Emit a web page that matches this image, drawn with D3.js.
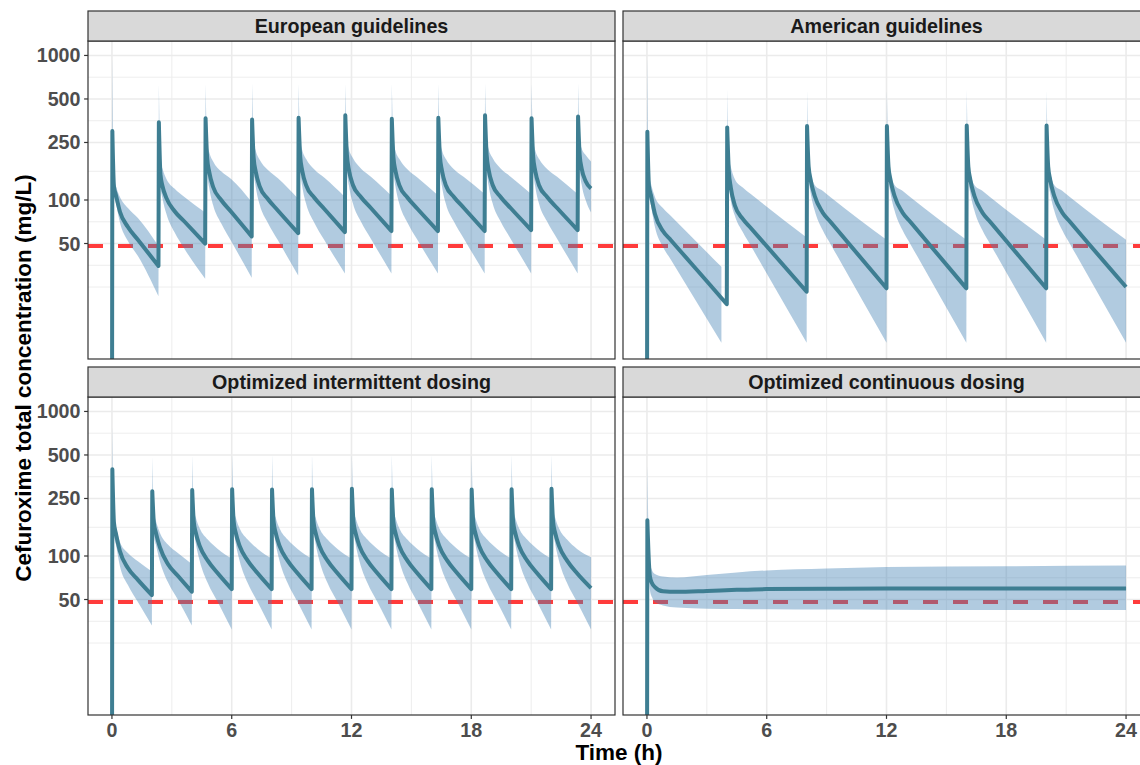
<!DOCTYPE html>
<html><head><meta charset="utf-8">
<script src="https://cdn.jsdelivr.net/npm/d3@7"></script>
<style>
body{margin:0;background:#fff;}
svg{display:block;font-family:"Liberation Sans",Arial,Helvetica,sans-serif;}
</style>
</head><body>
<svg id="chart" width="1140" height="765"></svg>
<script>
// ---------------- data ----------------
const panelTitles = ["European guidelines", "American guidelines", "Optimized intermittent dosing", "Optimized continuous dosing"];
const xTicks = [0, 6, 12, 18, 24];
const yTicks = [50, 100, 250, 500, 1000];
const yLimits = [10, 1000];
const xLimits = [0, 24];
const micLevel = 48;
const xTitle = "Time (h)";
const yTitle = "Cefuroxime total concentration (mg/L)";

// European guidelines
const euroTime = [
  0, 0.02, 0.1, 0.2, 0.4, 0.8, 1.3,
  2.33, 2.35, 2.43, 2.53, 2.73, 3.13, 3.63,
  4.67, 4.69, 4.77, 4.87, 5.07, 5.47, 5.97,
  7, 7.02, 7.1, 7.2, 7.4, 7.8, 8.3,
  9.33, 9.35, 9.43, 9.53, 9.73, 10.13, 10.63,
  11.67, 11.69, 11.77, 11.87, 12.07, 12.47, 12.97,
  14, 14.02, 14.1, 14.2, 14.4, 14.8, 15.3,
  16.33, 16.35, 16.43, 16.53, 16.73, 17.13, 17.63,
  18.67, 18.69, 18.77, 18.87, 19.07, 19.47, 19.97,
  21, 21.02, 21.1, 21.2, 21.4, 21.8, 22.3,
  23.33, 23.35, 23.43, 23.53, 23.73, 24];
const euroMedian = [
  1, 300, 124, 108, 83, 65, 53,
  35, 345, 150, 125, 103, 84, 71,
  50, 368, 195, 157, 123, 100, 83,
  56, 360, 195, 158, 124, 102, 85,
  59, 370, 200, 160, 126, 104, 87,
  60, 385, 205, 162, 127, 105, 88,
  61, 365, 198, 160, 126, 104, 87,
  61, 370, 200, 160, 126, 105, 88,
  61, 385, 205, 162, 127, 105, 88,
  62, 368, 200, 160, 126, 105, 88,
  62, 378, 205, 165, 135, 120];
const euroLower = [
  1, 200, 110, 95, 70, 52, 41,
  21.6, 220, 125, 103, 80, 60, 46,
  28.5, 240, 155, 122, 92, 69, 52,
  29, 240, 158, 124, 93, 70, 53,
  30, 245, 160, 125, 94, 70, 53,
  31, 250, 162, 126, 95, 71, 54,
  31, 240, 158, 125, 94, 70, 53,
  31, 245, 160, 125, 94, 71, 54,
  31, 250, 162, 126, 95, 71, 54,
  31, 245, 160, 125, 94, 71, 54,
  31, 245, 162, 128, 100, 82];
const euroUpper = [
  1, 1000, 145, 125, 105, 88, 75,
  48, 640, 190, 165, 140, 120, 105,
  82, 640, 250, 215, 185, 158, 140,
  97, 640, 255, 220, 190, 162, 142,
  102, 640, 260, 222, 192, 163, 143,
  105, 640, 265, 225, 195, 165, 145,
  107, 640, 258, 220, 192, 163, 143,
  108, 640, 260, 222, 192, 163, 144,
  110, 640, 265, 225, 195, 165, 145,
  110, 640, 260, 222, 192, 164, 145,
  110, 640, 265, 228, 205, 185];

// American guidelines
const amerTime = [
  0, 0.02, 0.1, 0.2, 0.4, 0.8, 1.2, 3.73,
  4, 4.02, 4.1, 4.2, 4.4, 4.8, 5.2,
  8, 8.02, 8.1, 8.2, 8.4, 8.8, 9.2,
  12, 12.02, 12.1, 12.2, 12.4, 12.8, 13.2,
  16, 16.02, 16.1, 16.2, 16.4, 16.8, 17.2,
  20, 20.02, 20.1, 20.2, 20.4, 20.8, 21.2, 24];
const amerMedian = [
  1, 297, 125, 108, 80, 61, 52.7, 21,
  19, 318, 160, 122, 92, 74, 64,
  23.2, 325, 170, 138, 107, 82, 70.5,
  24.5, 325, 170, 138, 107, 82, 70.5,
  24.5, 327, 170, 138, 107, 82, 70.5,
  24.5, 327, 170, 138, 107, 82, 70.5, 25];
const amerLower = [
  1, 200, 110, 92, 65, 47.5, 38.6, 10.3,
  null, 210, 130, 100, 78, 60, 48.2,
  10.3, 215, 140, 112, 85, 62, 49.5,
  10.3, 215, 140, 112, 85, 62, 49.5,
  10.3, 215, 140, 112, 85, 62, 49.5,
  10.3, 215, 140, 112, 85, 62, 49.5, 10.3];
const amerUpper = [
  1, 1000, 150, 130, 105, 88, 77.4, 34.5,
  null, 580, 200, 170, 140, 122, 110,
  55, 580, 185, 155, 127, 116, 104.6,
  53, 580, 185, 155, 127, 116, 104.6,
  53, 580, 185, 155, 127, 116, 104.6,
  53, 580, 185, 155, 127, 116, 104.6, 53];

// Optimized intermittent dosing
const optTime = [
  0, 0.02, 0.1, 0.2, 0.4, 0.8, 1.3,
  2, 2.02, 2.1, 2.2, 2.4, 2.8, 3.3,
  4, 4.02, 4.1, 4.2, 4.4, 4.8, 5.3,
  6, 6.02, 6.1, 6.2, 6.4, 6.8, 7.3,
  8, 8.02, 8.1, 8.2, 8.4, 8.8, 9.3,
  10, 10.02, 10.1, 10.2, 10.4, 10.8, 11.3,
  12, 12.02, 12.1, 12.2, 12.4, 12.8, 13.3,
  14, 14.02, 14.1, 14.2, 14.4, 14.8, 15.3,
  16, 16.02, 16.1, 16.2, 16.4, 16.8, 17.3,
  18, 18.02, 18.1, 18.2, 18.4, 18.8, 19.3,
  20, 20.02, 20.1, 20.2, 20.4, 20.8, 21.3,
  22, 22.02, 22.1, 22.2, 22.4, 22.8, 23.3, 24];
const optMedian = [
  1, 398, 170, 143, 108, 82.6, 68.4,
  53.7, 281, 170, 145, 115, 88, 73,
  56.6, 286, 172, 145, 117, 93, 76,
  59, 290, 172, 145, 117, 93, 76,
  59, 288, 172, 145, 117, 93, 76,
  59, 290, 172, 145, 117, 93, 76,
  59, 292, 172, 145, 117, 93, 76,
  59, 288, 172, 145, 117, 93, 76,
  59, 290, 172, 145, 117, 93, 76,
  59, 288, 172, 145, 117, 93, 76,
  59, 290, 172, 145, 117, 93, 76,
  59, 292, 172, 145, 117, 93, 76, 60];
const optLower = [
  1, 250, 140, 120, 85, 63, 48,
  33, 200, 140, 120, 92, 66, 50,
  33, 200, 150, 122, 92, 65, 48,
  31, 200, 150, 122, 92, 65, 48,
  31, 200, 150, 122, 92, 65, 48,
  31, 200, 150, 122, 92, 65, 48,
  31, 200, 150, 122, 92, 65, 48,
  31, 200, 150, 122, 92, 65, 48,
  31, 200, 150, 122, 92, 65, 48,
  31, 200, 150, 122, 92, 65, 48,
  31, 200, 150, 122, 92, 65, 48,
  31, 200, 150, 122, 92, 65, 48, 31];
const optUpper = [
  1, 800, 190, 160, 125, 105, 92,
  78, 490, 200, 175, 145, 120, 105,
  88, 500, 210, 185, 155, 130, 112,
  96, 510, 210, 185, 155, 130, 112,
  96, 510, 210, 185, 155, 130, 112,
  96, 510, 210, 185, 155, 130, 112,
  96, 510, 210, 185, 155, 130, 112,
  96, 510, 210, 185, 155, 130, 112,
  96, 510, 210, 185, 155, 130, 112,
  96, 510, 210, 185, 155, 130, 112,
  96, 510, 210, 185, 155, 130, 112,
  96, 510, 210, 185, 155, 130, 112, 98];

// Optimized continuous dosing
const contTime   = [0, 0.02, 0.1, 0.15, 0.25, 0.4, 0.8, 1.5, 3, 4.5, 6, 9, 12, 18, 24];
const contMedian = [1, 177, 89, 72, 65, 61, 57, 56.5, 57.3, 58.3, 59, 59.3, 59.5, 59.6, 59.6];
const contLower  = [1, 130, 70, 58, 52, 48, 45.5, 44, 43.2, 43, 42.8, 42.6, 42.5, 42.3, 42.3];
const contUpper  = [1, 430, 110, 90, 80, 75, 72, 71, 74, 77, 79.5, 82, 84, 85, 86];

// ---------------- drawing ----------------
const svg = d3.select("#chart");
const colX = [88, 623], panelW = 527;
const rowY = [41, 397], panelH = 318, stripH = 30;
const lineColor = "#3e7e92";
const ribbonColor = "#4682b4";
const gridColor = "#ebebeb";
const frameColor = "#333333";

const panels = [
  {title: panelTitles[0], t: euroTime, med: euroMedian, lo: euroLower, hi: euroUpper, col: 0, row: 0},
  {title: panelTitles[1], t: amerTime, med: amerMedian, lo: amerLower, hi: amerUpper, col: 1, row: 0},
  {title: panelTitles[2], t: optTime,  med: optMedian,  lo: optLower,  hi: optUpper,  col: 0, row: 1},
  {title: panelTitles[3], t: contTime, med: contMedian, lo: contLower, hi: contUpper, col: 1, row: 1}
];

const xSpan = xLimits[1] - xLimits[0];
const xDomain = [xLimits[0] - 0.05 * xSpan, xLimits[1] + 0.05 * xSpan];
const lSpan = Math.log10(yLimits[1]) - Math.log10(yLimits[0]);
const yDomain = [Math.pow(10, Math.log10(yLimits[0]) - 0.05 * lSpan), Math.pow(10, Math.log10(yLimits[1]) + 0.05 * lSpan)];

const xMinor = d3.pairs(xTicks).map(([a, b]) => (a + b) / 2);
const lt = yTicks.map(Math.log10);
const step = lt[1] - lt[0];
const ext = [lt[0] - step].concat(lt);
const yMinor = [];
ext.forEach((v, i) => { yMinor.push(v); if (i < ext.length - 1) yMinor.push((v + ext[i + 1]) / 2); });
const yMinorVals = yMinor.map(v => Math.pow(10, v)).filter(v => v >= yDomain[0] && v <= yDomain[1] && !yTicks.some(t => Math.abs(t - v) < 1e-6));

// split a series into decay runs at each dose (a jump up in the median)
function doseRuns(med) {
  const starts = [0];
  for (let j = 0; j < med.length - 1; j++) if (med[j + 1] / med[j] > 1.5) starts.push(j + 1);
  return starts.map((s, k) => d3.range(s, k < starts.length - 1 ? starts[k + 1] : med.length));
}

const defs = svg.append("defs");

panels.forEach((p, i) => {
  const x0 = colX[p.col], y0 = rowY[p.row];
  const x = d3.scaleLinear().domain(xDomain).range([x0, x0 + panelW]);
  const y = d3.scaleLog().domain(yDomain).range([y0 + panelH, y0]);
  const g = svg.append("g");

  defs.append("clipPath").attr("id", "clip" + i)
    .append("rect").attr("x", x0).attr("y", y0).attr("width", panelW).attr("height", panelH);

  const inner = g.append("g").attr("clip-path", `url(#clip${i})`);
  inner.append("rect").attr("x", x0).attr("y", y0).attr("width", panelW).attr("height", panelH).attr("fill", "#fff");

  inner.selectAll(".gxm").data(xMinor).enter().append("line")
    .attr("x1", d => x(d)).attr("x2", d => x(d)).attr("y1", y0).attr("y2", y0 + panelH)
    .attr("stroke", gridColor).attr("stroke-width", 0.9);
  inner.selectAll(".gym").data(yMinorVals).enter().append("line")
    .attr("x1", x0).attr("x2", x0 + panelW).attr("y1", d => y(d)).attr("y2", d => y(d))
    .attr("stroke", gridColor).attr("stroke-width", 0.9);
  inner.selectAll(".gx").data(xTicks).enter().append("line")
    .attr("x1", d => x(d)).attr("x2", d => x(d)).attr("y1", y0).attr("y2", y0 + panelH)
    .attr("stroke", gridColor).attr("stroke-width", 1.6);
  inner.selectAll(".gy").data(yTicks).enter().append("line")
    .attr("x1", x0).attr("x2", x0 + panelW).attr("y1", d => y(d)).attr("y2", d => y(d))
    .attr("stroke", gridColor).attr("stroke-width", 1.6);

  inner.append("line").attr("x1", x0).attr("x2", x0 + panelW)
    .attr("y1", y(micLevel)).attr("y2", y(micLevel))
    .attr("stroke", "#ff3b3b").attr("stroke-width", 4).attr("stroke-dasharray", "15,15");

  const runs = doseRuns(p.med);
  const def = j => p.lo[j] != null && p.hi[j] != null;
  const areaSmooth = d3.area().defined(def)
    .x(j => x(p.t[j])).y0(j => y(p.lo[j])).y1(j => y(p.hi[j])).curve(d3.curveMonotoneX);
  const areaStraight = d3.area().defined(def)
    .x(j => x(p.t[j])).y0(j => y(p.lo[j])).y1(j => y(p.hi[j]));
  let ribbonD = "";
  runs.forEach((r, k) => {
    if (k > 0) ribbonD += areaStraight([r[0] - 1, r[0]]) || "";
    ribbonD += areaSmooth(r) || "";
  });
  inner.append("path").attr("d", ribbonD).attr("fill", ribbonColor).attr("fill-opacity", 0.42);

  const lineSmooth = d3.line().x(j => x(p.t[j])).y(j => y(p.med[j])).curve(d3.curveMonotoneX);
  let lineD = "";
  runs.forEach((r, k) => {
    const s = lineSmooth(r);
    lineD += k === 0 ? s : "L" + s.slice(1);
  });
  inner.append("path").attr("d", lineD).attr("fill", "none")
    .attr("stroke", lineColor).attr("stroke-width", 4).attr("stroke-linejoin", "round");

  g.append("rect").attr("x", x0).attr("y", y0).attr("width", panelW).attr("height", panelH)
    .attr("fill", "none").attr("stroke", frameColor).attr("stroke-width", 1.2);

  g.append("rect").attr("x", x0).attr("y", y0 - stripH).attr("width", panelW).attr("height", stripH)
    .attr("fill", "#d9d9d9").attr("stroke", frameColor).attr("stroke-width", 1.2);
  g.append("text").attr("x", x0 + panelW / 2).attr("y", y0 - stripH / 2 + 7)
    .attr("text-anchor", "middle").attr("font-size", 19.7).attr("font-weight", "bold")
    .attr("fill", "#1a1a1a").text(p.title);

  if (p.col === 0) {
    const ya = g.append("g");
    ya.selectAll("line").data(yTicks).enter().append("line")
      .attr("x1", x0 - 3.9).attr("x2", x0).attr("y1", d => y(d)).attr("y2", d => y(d))
      .attr("stroke", frameColor).attr("stroke-width", 1.2);
    ya.selectAll("text").data(yTicks).enter().append("text")
      .attr("x", x0 - 7.5).attr("y", d => y(d) + 7)
      .attr("text-anchor", "end").attr("font-size", 19.7).attr("font-weight", "bold")
      .attr("fill", "#4d4d4d").text(d => d);
  }
  if (p.row === 1) {
    const xa = g.append("g");
    xa.selectAll("line").data(xTicks).enter().append("line")
      .attr("x1", d => x(d)).attr("x2", d => x(d)).attr("y1", y0 + panelH).attr("y2", y0 + panelH + 3.9)
      .attr("stroke", frameColor).attr("stroke-width", 1.2);
    xa.selectAll("text").data(xTicks).enter().append("text")
      .attr("x", d => x(d)).attr("y", y0 + panelH + 22)
      .attr("text-anchor", "middle").attr("font-size", 19.7).attr("font-weight", "bold")
      .attr("fill", "#4d4d4d").text(d => d);
  }
});

svg.append("text").attr("x", (colX[0] + colX[1] + panelW) / 2).attr("y", 760)
  .attr("text-anchor", "middle").attr("font-size", 22.5).attr("font-weight", "bold")
  .attr("fill", "#000").text(xTitle);
svg.append("text").attr("transform", `translate(31,${(rowY[0] + rowY[1] + panelH) / 2}) rotate(-90)`)
  .attr("text-anchor", "middle").attr("font-size", 22.5).attr("font-weight", "bold")
  .attr("fill", "#000").text(yTitle);
</script>
</body></html>
